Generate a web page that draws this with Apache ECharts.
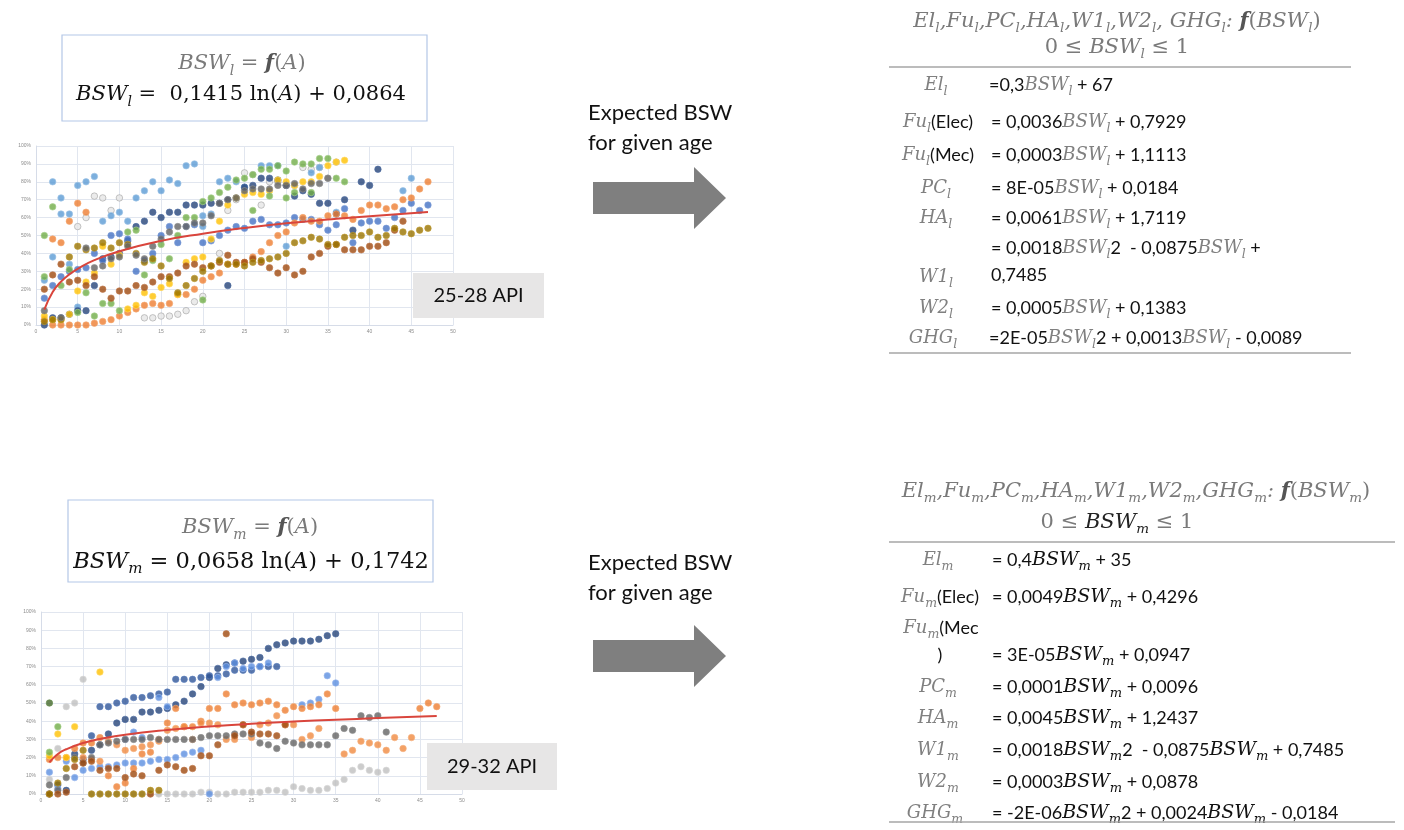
<!DOCTYPE html>
<html>
<head>
<meta charset="utf-8">
<script src="https://cdn.jsdelivr.net/npm/echarts@6/dist/echarts.min.js"></script>
<style>
  html, body { margin: 0; padding: 0; background: #fff; }
  #main { width: 1404px; height: 830px; }
</style>
</head>
<body>
<div id="main"></div>
<script>
// 25-28 API : age vs BSW (%)
var l_lightBlue = [[1,25],[2,38],[2,80],[3,71],[3,62],[4,62],[4,34],[5,78],[5,10],[6,80],[7,83],[8,58],[9,61],[10,63],[11,58],[12,71],[13,75],[14,80],[15,75],[16,81],[17,79],[18,89],[19,90],[20,61],[20,55],[21,62],[22,80],[23,82],[24,80],[25,77],[27,89],[28,89],[29,89],[30,44],[33,85],[34,88],[36,63],[44,75],[45,82]];
var l_darkBlue = [[1,0],[2,4],[3,4],[4,6],[5,8],[6,8],[7,22],[8,37],[9,38],[10,40],[11,47],[12,55],[13,58],[14,63],[15,60],[16,63],[17,63],[18,67],[19,67],[20,67],[21,68],[22,68],[23,70],[23,22],[24,71],[25,77],[26,78],[27,82],[28,82],[29,81],[30,78],[31,72],[32,75],[33,73],[34,68],[35,68],[36,62],[37,70],[38,53],[39,80],[40,78],[41,87]];
var l_blue = [[1,15],[2,22],[3,27],[4,30],[5,31],[6,32],[7,40],[8,36],[9,50],[10,51],[11,48],[12,30],[13,36],[14,40],[15,50],[16,55],[17,46],[18,55],[19,56],[20,46],[21,47],[22,50],[23,53],[24,55],[25,54],[26,58],[27,59],[28,56],[29,56],[30,57],[31,60],[32,59],[33,59],[34,56],[35,53],[36,56],[37,65],[38,46],[39,57],[40,58],[41,58],[42,54],[43,60],[44,64],[45,68],[46,64],[47,67]];
var l_orange = [[1,3],[2,0],[2,48],[3,0],[3,46],[4,0],[4,58],[5,0],[5,68],[6,0],[6,63],[7,1],[8,2],[9,3],[10,5],[11,7],[12,9],[13,11],[14,12],[15,11],[16,12],[17,17],[18,17],[19,20],[20,25],[21,27],[22,29],[23,34],[24,34],[25,35],[26,38],[27,41],[28,46],[29,50],[30,52],[31,57],[32,60],[33,58],[34,58],[35,61],[36,62],[37,61],[38,59],[39,64],[40,67],[41,67],[42,65],[43,66],[44,70],[45,71],[46,76],[47,80]];
var l_gray = [[5,55],[6,60],[7,72],[8,71],[9,64],[10,71],[13,4],[14,4],[15,5],[16,5],[17,6],[18,8],[19,13],[20,16],[22,40],[23,64],[24,70],[25,85],[26,84],[27,67],[28,80],[29,80],[30,78],[31,78],[32,88],[33,87],[34,88],[35,82],[36,91]];
var l_gold = [[1,5],[2,3],[3,3],[4,6],[5,19],[6,24],[7,29],[8,44],[9,34],[10,39],[11,9],[12,11],[13,18],[14,16],[15,21],[16,23],[17,17],[18,35],[19,37],[20,38],[21,48],[22,58],[23,67],[24,71],[25,73],[26,74],[27,73],[28,75],[29,81],[30,80],[31,78],[32,80],[33,80],[34,83],[35,89],[36,91],[37,92]];
var l_green = [[1,27],[1,50],[2,66],[3,22],[4,31],[5,7],[6,18],[7,5],[8,12],[9,12],[10,8],[11,52],[12,53],[13,28],[14,36],[15,45],[16,37],[17,50],[18,60],[19,60],[20,14],[20,69],[21,71],[22,74],[23,77],[24,81],[25,82],[26,84],[26,64],[27,87],[28,87],[28,72],[29,89],[30,86],[30,71],[31,91],[31,74],[32,90],[33,90],[33,74],[34,93],[35,93],[36,82],[37,80]];
var l_darkOrange = [[1,20],[2,28],[3,34],[4,24],[5,25],[6,22],[7,27],[8,20],[9,15],[10,19],[11,19],[12,22],[13,21],[14,24],[15,27],[16,27],[17,29],[18,33],[19,34],[20,32],[21,33],[22,35],[23,39],[24,35],[25,35],[26,37],[27,35],[28,32],[29,29],[30,32],[31,28],[32,30],[33,38],[34,40],[35,44],[36,45],[37,42],[38,42],[39,42],[40,44],[41,44],[42,46],[43,53],[44,58]];
var l_darkGold = [[1,2],[2,3],[3,3],[4,38],[5,44],[6,42],[7,43],[8,46],[9,43],[10,46],[11,45],[12,40],[13,35],[14,37],[15,33],[16,26],[17,18],[18,22],[19,26],[20,30],[21,33],[22,36],[23,34],[24,34],[25,33],[26,35],[27,36],[28,37],[29,38],[30,40],[31,46],[32,47],[33,49],[34,48],[35,45],[36,45],[37,49],[38,50],[39,50],[40,52],[41,49],[42,50],[43,54],[44,52],[45,51],[46,53],[47,54]];
var l_darkGray = [[1,8],[3,4],[6,43],[7,32],[8,33],[9,37],[10,38],[11,44],[12,39],[13,37],[14,44],[15,48],[16,52],[17,55],[18,55],[19,57],[20,57],[21,61],[22,68],[23,70],[24,71],[25,75],[26,76],[27,76],[28,76],[29,78],[30,78],[31,79],[32,76],[33,79],[34,79],[35,82]];
var trendL = [[1,8.6],[2,18.4],[3,24.2],[4,28.3],[5,31.4],[7,36.2],[10,41.2],[15,47],[20,51],[25,54.2],[30,56.8],[35,58.9],[40,60.8],[47,63.1]];

// 29-32 API : age vs BSW (%)
var m_darkBlue = [[1,0],[2,5],[3,2],[4,22],[5,19],[6,24],[7,27],[8,33],[9,39],[10,41],[11,41],[12,45],[13,45],[14,46],[15,47],[16,49],[17,51],[18,55],[19,59],[20,64],[21,69],[22,71],[23,72],[24,73],[25,74],[26,75],[27,80],[28,82],[29,83],[30,84],[31,84],[32,84],[33,85],[34,87],[35,88]];
var m_blue = [[6,32],[7,48],[8,48],[9,50],[10,51],[11,53],[12,53],[13,54],[14,55],[15,56],[16,63],[17,63],[18,63],[19,64],[20,65],[21,65],[22,66],[23,68],[24,68],[25,68],[26,70],[27,70],[28,70]];
var m_lightBlue = [[1,12],[2,3],[3,18],[4,9],[5,13],[6,14],[7,15],[8,15],[9,16],[10,17],[10,30],[11,17],[11,34],[12,17],[12,31],[13,18],[14,19],[14,53],[15,19],[15,48],[16,20],[17,22],[18,23],[19,24],[20,0],[21,64],[22,70],[23,72],[24,69],[25,70],[26,70],[27,72],[31,49],[32,50],[33,52],[34,65],[35,61]];
var m_orange = [[1,19],[2,20],[3,20],[4,25],[5,28],[6,28],[7,31],[8,10],[9,4],[10,6],[11,14],[12,22],[13,23],[14,30],[15,39],[16,47],[17,37],[18,37],[19,40],[20,47],[21,47],[22,55],[23,49],[24,50],[25,49],[26,50],[27,51],[28,49],[29,46],[30,48],[31,47],[32,48],[33,49],[34,55],[35,47],[45,47],[46,50],[47,48]];
var m_lightOrange = [[5,20],[6,19],[7,18],[8,29],[9,27],[10,24],[11,25],[12,26],[13,27],[14,29],[15,35],[16,36],[17,37],[18,30],[19,39],[20,39],[21,38],[22,30],[23,30],[24,38],[25,31],[26,38],[27,39],[28,43],[29,38],[30,38],[31,30],[32,32],[33,36],[36,22],[37,24],[38,29],[39,28],[40,27],[41,24],[42,31],[43,25],[44,31]];
var m_gray = [[1,8],[2,25],[3,48],[4,50],[5,63],[6,0],[7,0],[8,0],[9,0],[10,0],[11,0],[12,0],[13,0],[14,0],[15,0],[16,0],[17,0],[18,0],[19,1],[20,1],[21,0],[22,0],[23,1],[24,1],[25,1],[26,1],[27,2],[28,2],[29,1],[30,4],[31,3],[32,2],[33,2],[34,3],[35,6],[36,8],[37,13],[38,15],[39,13],[40,12],[41,13]];
var m_darkGray = [[1,5],[2,2],[3,9],[4,20],[5,17],[6,20],[7,27],[8,28],[9,29],[10,30],[11,30],[12,30],[13,31],[14,30],[15,30],[16,30],[17,30],[18,30],[19,31],[20,32],[21,32],[22,32],[23,33],[24,33],[25,33],[26,28],[27,27],[28,25],[29,29],[30,28],[31,27],[32,27],[33,27],[34,27],[35,32],[36,36],[37,35],[38,43],[39,42],[40,43],[41,34]];
var m_darkOrange = [[1,0],[2,0],[3,1],[4,15],[5,17],[6,18],[7,13],[8,14],[9,14],[10,9],[11,11],[12,10],[13,0],[14,13],[15,16],[16,15],[17,13],[18,14],[19,21],[20,21],[21,27],[22,88],[23,32],[24,38],[25,34],[26,33],[27,33],[28,32],[29,38]];
var m_gold = [[1,21],[2,33],[3,20],[4,37],[7,67]];
var m_darkGold = [[1,0],[2,6],[3,14],[4,19],[5,24],[6,0],[7,0],[8,0],[9,0],[10,0],[11,0],[12,0],[13,2],[14,2]];
var m_green = [[1,23],[2,37]];
var m_darkGreen = [[1,50]];
var trendM = [[1,17.4],[2,22],[3,24.6],[5,28],[7,30.2],[10,32.6],[15,35.2],[20,37.1],[25,38.6],[30,39.8],[35,40.8],[40,41.7],[47,42.8]];

var myChart = echarts.init(document.getElementById('main'), null, { renderer: 'canvas' });

const gridLine = '#e1e6ef';

const mkX = idx => ({
  gridIndex: idx, type: 'value', min: 0, max: 50, interval: 5,
  axisLine: { lineStyle: { color: '#d6dce8' } },
  axisTick: { show: false },
  axisLabel: { fontSize: 5, color: '#8c8c8c', margin: 4 },
  splitLine: { lineStyle: { color: gridLine } }
});
const mkY = idx => ({
  gridIndex: idx, type: 'value', min: 0, max: 100, interval: 10,
  axisLine: { show: true, lineStyle: { color: '#d6dce8' } },
  axisTick: { show: false },
  axisLabel: { fontSize: 5, color: '#8c8c8c', margin: 5, formatter: '{value}%' },
  splitLine: { lineStyle: { color: gridLine } }
});

const mkScatter = (data, color, border, idx) => ({
  type: 'scatter', xAxisIndex: idx, yAxisIndex: idx, data: data,
  symbolSize: 6.5, silent: true,
  itemStyle: { color: color, borderColor: border, borderWidth: 0.8 }
});
const mkTrend = (data, idx) => ({
  type: 'line', xAxisIndex: idx, yAxisIndex: idx, data: data,
  smooth: true, showSymbol: false, silent: true, z: 5,
  lineStyle: { color: '#d9453c', width: 2 }
});

// 수식 텍스트 스타일
const SERIF = 'DejaVu Serif';
const rich = {
  n:  { fontFamily: 'Lato', fontSize: 18, fill: '#111', lineHeight: 26 },
  m:  { fontFamily: SERIF, fontStyle: 'italic', fontSize: 18, fill: '#808080', lineHeight: 26 },
  s:  { fontFamily: SERIF, fontStyle: 'italic', fontSize: 12.5, fill: '#808080', lineHeight: 16, verticalAlign: 'bottom' },
  k:  { fontFamily: SERIF, fontStyle: 'italic', fontSize: 19, fill: '#111', lineHeight: 26 },
  ks: { fontFamily: SERIF, fontStyle: 'italic', fontSize: 13, fill: '#111', lineHeight: 16, verticalAlign: 'bottom' },
  h:  { fontFamily: SERIF, fontStyle: 'italic', fontSize: 21, fill: '#7a7a7a', lineHeight: 26 },
  hs: { fontFamily: SERIF, fontStyle: 'italic', fontSize: 13.5, fill: '#7a7a7a', lineHeight: 16, verticalAlign: 'bottom' },
  hu: { fontFamily: SERIF, fontSize: 21, fill: '#7a7a7a', lineHeight: 26 },
  hb: { fontFamily: SERIF, fontStyle: 'italic', fontWeight: 'bold', fontSize: 21, fill: '#555', lineHeight: 26 },
  hk: { fontFamily: SERIF, fontStyle: 'italic', fontSize: 21, fill: '#222', lineHeight: 26 },
  hks:{ fontFamily: SERIF, fontStyle: 'italic', fontSize: 13.5, fill: '#222', lineHeight: 16, verticalAlign: 'bottom' },
  bi: { fontFamily: SERIF, fontStyle: 'italic', fontSize: 21, fill: '#7a7a7a', lineHeight: 28 },
  bs: { fontFamily: SERIF, fontStyle: 'italic', fontSize: 14, fill: '#7a7a7a', lineHeight: 18, verticalAlign: 'bottom' },
  bu: { fontFamily: SERIF, fontSize: 21, fill: '#7a7a7a', lineHeight: 28 },
  bf: { fontFamily: SERIF, fontStyle: 'italic', fontWeight: 'bold', fontSize: 21, fill: '#555', lineHeight: 28 },
  ki: { fontFamily: SERIF, fontStyle: 'italic', fontSize: 21, fill: '#111', lineHeight: 28 },
  kb: { fontFamily: SERIF, fontStyle: 'italic', fontSize: 14, fill: '#111', lineHeight: 18, verticalAlign: 'bottom' },
  ku: { fontFamily: SERIF, fontSize: 21, fill: '#111', lineHeight: 28 },
  ji: { fontFamily: SERIF, fontStyle: 'italic', fontSize: 22.5, fill: '#111', lineHeight: 30 },
  jb: { fontFamily: SERIF, fontStyle: 'italic', fontSize: 15, fill: '#111', lineHeight: 19, verticalAlign: 'bottom' },
  ju: { fontFamily: SERIF, fontSize: 22.5, fill: '#111', lineHeight: 30 }
};

const txt = (x, y, text, align) => ({
  type: 'text', x: x, y: y, z: 20, silent: true,
  style: { text: text, rich: rich, align: align || 'left', verticalAlign: 'middle' }
});
const plain = (x, y, text, size) => ({
  type: 'text', x: x, y: y, z: 20, silent: true,
  style: { text: text, fontFamily: 'Lato', fontSize: size, fill: '#111', align: 'left', verticalAlign: 'middle' }
});
const hline = (x1, x2, y) => ({
  type: 'line', z: 20, silent: true,
  shape: { x1: x1, y1: y, x2: x2, y2: y },
  style: { stroke: '#a6a6a6', lineWidth: 1.5 }
});
const arrow = dy => ({
  type: 'polygon', z: 20, silent: true,
  shape: { points: [[593, 182 + dy], [694, 182 + dy], [694, 167 + dy], [726, 198 + dy], [694, 229 + dy], [694, 214 + dy], [593, 214 + dy]] },
  style: { fill: '#7f7f7f' }
});
const apiBox = (x, y, w, h, label) => ([
  { type: 'rect', z: 30, silent: true, shape: { x: x, y: y, width: w, height: h }, style: { fill: '#e7e6e6' } },
  { type: 'text', z: 31, silent: true, x: x + w / 2, y: y + h / 2,
    style: { text: label, fontFamily: 'Lato', fontSize: 20, fill: '#111', align: 'center', verticalAlign: 'middle' } }
]);
const fBox = (x, y, w, h) => ({
  type: 'rect', z: 20, silent: true, shape: { x: x, y: y, width: w, height: h },
  style: { fill: '#fff', stroke: '#b4c7e7', lineWidth: 1.2 }
});

let graphics = [
  // 위쪽 수식 박스
  fBox(62, 35, 365, 86),
  txt(242, 64, '{bi|BSW}{bs|l}{bu| = }{bf|f}{bu|(}{bi|A}{bu|)}', 'center'),
  txt(241, 95, '{ki|BSW}{kb|l}{ku| =  0,1415 ln(}{ki|A}{ku|) + 0,0864}', 'center'),
  // 아래쪽 수식 박스
  fBox(68, 500, 365, 82),
  txt(250, 528, '{bi|BSW}{bs|m}{bu| = }{bf|f}{bu|(}{bi|A}{bu|)}', 'center'),
  txt(251, 562, '{ji|BSW}{jb|m}{ju| = 0,0658 ln(}{ji|A}{ju|) + 0,1742}', 'center'),
  // 화살표
  arrow(0), arrow(458),
  plain(588, 113, 'Expected BSW', 22),
  plain(588, 143, 'for given age', 22),
  plain(588, 563, 'Expected BSW', 22),
  plain(588, 593, 'for given age', 22),
  // 위 표
  txt(1117, 22, '{h|El}{hs|l}{h|,Fu}{hs|l}{h|,PC}{hs|l}{h|,HA}{hs|l}{h|,W1}{hs|l}{h|,W2}{hs|l}{h|, GHG}{hs|l}{h|: }{hb|f}{hu|(}{h|BSW}{hs|l}{hu|)}', 'center'),
  txt(1117, 48, '{hu|0 ≤ }{h|BSW}{hs|l}{hu| ≤ 1}', 'center'),
  hline(889, 1351, 67),
  txt(936, 85, '{m|El}{s|l}', 'center'),
  txt(989, 85, '{n|=0,3}{m|BSW}{s|l}{n| + 67}'),
  txt(938, 122, '{m|Fu}{s|l}{n|(Elec)}', 'center'),
  txt(991, 122, '{n|= 0,0036}{m|BSW}{s|l}{n| + 0,7929}'),
  txt(938, 155, '{m|Fu}{s|l}{n|(Mec)}', 'center'),
  txt(991, 155, '{n|= 0,0003}{m|BSW}{s|l}{n| + 1,1113}'),
  txt(936, 188, '{m|PC}{s|l}', 'center'),
  txt(991, 188, '{n|= 8E-05}{m|BSW}{s|l}{n| + 0,0184}'),
  txt(936, 218, '{m|HA}{s|l}', 'center'),
  txt(991, 218, '{n|= 0,0061}{m|BSW}{s|l}{n| + 1,7119}'),
  txt(991, 248, '{n|= 0,0018}{m|BSW}{s|l}{n|2  - 0,0875}{m|BSW}{s|l}{n| +}'),
  txt(936, 277, '{m|W1}{s|l}', 'center'),
  txt(991, 275, '{n|0,7485}'),
  txt(936, 308, '{m|W2}{s|l}', 'center'),
  txt(991, 308, '{n|= 0,0005}{m|BSW}{s|l}{n| + 0,1383}'),
  txt(933, 338, '{m|GHG}{s|l}', 'center'),
  txt(989, 338, '{n|=2E-05}{m|BSW}{s|l}{n|2 + 0,0013}{m|BSW}{s|l}{n| - 0,0089}'),
  hline(889, 1351, 353),
  // 아래 표
  txt(1136, 492, '{h|El}{hs|m}{h|,Fu}{hs|m}{h|,PC}{hs|m}{h|,HA}{hs|m}{h|,W1}{hs|m}{h|,W2}{hs|m}{h|,GHG}{hs|m}{h|: }{hb|f}{hu|(}{h|BSW}{hs|m}{hu|)}', 'center'),
  txt(1117, 523, '{hu|0 ≤ }{hk|BSW}{hks|m}{hu| ≤ 1}', 'center'),
  hline(889, 1395, 542),
  txt(938, 560, '{m|El}{s|m}', 'center'),
  txt(992, 560, '{n|= 0,4}{k|BSW}{ks|m}{n| + 35}'),
  txt(940, 597, '{m|Fu}{s|m}{n|(Elec)}', 'center'),
  txt(992, 597, '{n|= 0,0049}{k|BSW}{ks|m}{n| + 0,4296}'),
  txt(941, 628, '{m|Fu}{s|m}{n|(Mec}', 'center'),
  txt(940, 655, '{n|)}', 'center'),
  txt(992, 655, '{n|= 3E-05}{k|BSW}{ks|m}{n| + 0,0947}'),
  txt(938, 687, '{m|PC}{s|m}', 'center'),
  txt(992, 687, '{n|= 0,0001}{k|BSW}{ks|m}{n| + 0,0096}'),
  txt(938, 718, '{m|HA}{s|m}', 'center'),
  txt(992, 718, '{n|= 0,0045}{k|BSW}{ks|m}{n| + 1,2437}'),
  txt(938, 750, '{m|W1}{s|m}', 'center'),
  txt(992, 750, '{n|= 0,0018}{k|BSW}{ks|m}{n|2  - 0,0875}{k|BSW}{ks|m}{n| + 0,7485}'),
  txt(938, 782, '{m|W2}{s|m}', 'center'),
  txt(992, 782, '{n|= 0,0003}{k|BSW}{ks|m}{n| + 0,0878}'),
  txt(935, 813, '{m|GHG}{s|m}', 'center'),
  txt(992, 813, '{n|= -2E-06}{k|BSW}{ks|m}{n|2 + 0,0024}{k|BSW}{ks|m}{n| - 0,0184}'),
  hline(889, 1395, 822)
];
graphics = graphics.concat(apiBox(413, 273, 131, 45, '25-28 API'), apiBox(427, 743, 130, 47, '29-32 API'));

let option = {
  backgroundColor: '#fff',
  animation: false,
  grid: [
    { left: 36, top: 146, width: 417, height: 179 },
    { left: 41, top: 612, width: 421, height: 182 }
  ],
  xAxis: [mkX(0), mkX(1)],
  yAxis: [mkY(0), mkY(1)],
  series: [
    mkScatter(l_gray, '#e6e6e6', '#a5a5a5', 0),
    mkScatter(l_lightBlue, '#5b9bd5', '#9dc3e6', 0),
    mkScatter(l_darkBlue, '#264478', '#4a6aa0', 0),
    mkScatter(l_blue, '#4472c4', '#7b9bd6', 0),
    mkScatter(l_orange, '#ed7d31', '#f4a872', 0),
    mkScatter(l_gold, '#ffc000', '#ffd966', 0),
    mkScatter(l_green, '#70ad47', '#a9d18e', 0),
    mkScatter(l_darkOrange, '#9e480e', '#c0784a', 0),
    mkScatter(l_darkGold, '#997300', '#bf9a30', 0),
    mkScatter(l_darkGray, '#636363', '#8f8f8f', 0),
    mkTrend(trendL, 0),
    mkScatter(m_gray, '#bfbfbf', '#d9d9d9', 1),
    mkScatter(m_darkBlue, '#264478', '#4a6aa0', 1),
    mkScatter(m_blue, '#2f5597', '#5b7fbf', 1),
    mkScatter(m_lightBlue, '#5b8ee0', '#9dbaf0', 1),
    mkScatter(m_orange, '#ed7d31', '#f4a872', 1),
    mkScatter(m_lightOrange, '#f08a40', '#f6b07e', 1),
    mkScatter(m_darkGray, '#636363', '#8f8f8f', 1),
    mkScatter(m_darkOrange, '#9e480e', '#c0784a', 1),
    mkScatter(m_gold, '#ffc000', '#ffd966', 1),
    mkScatter(m_darkGold, '#997300', '#bf9a30', 1),
    mkScatter(m_green, '#70ad47', '#a9d18e', 1),
    mkScatter(m_darkGreen, '#43682b', '#6a8f52', 1),
    mkTrend(trendM, 1)
  ],
  graphic: graphics
};

option && myChart.setOption(option);
</script>
</body>
</html>
